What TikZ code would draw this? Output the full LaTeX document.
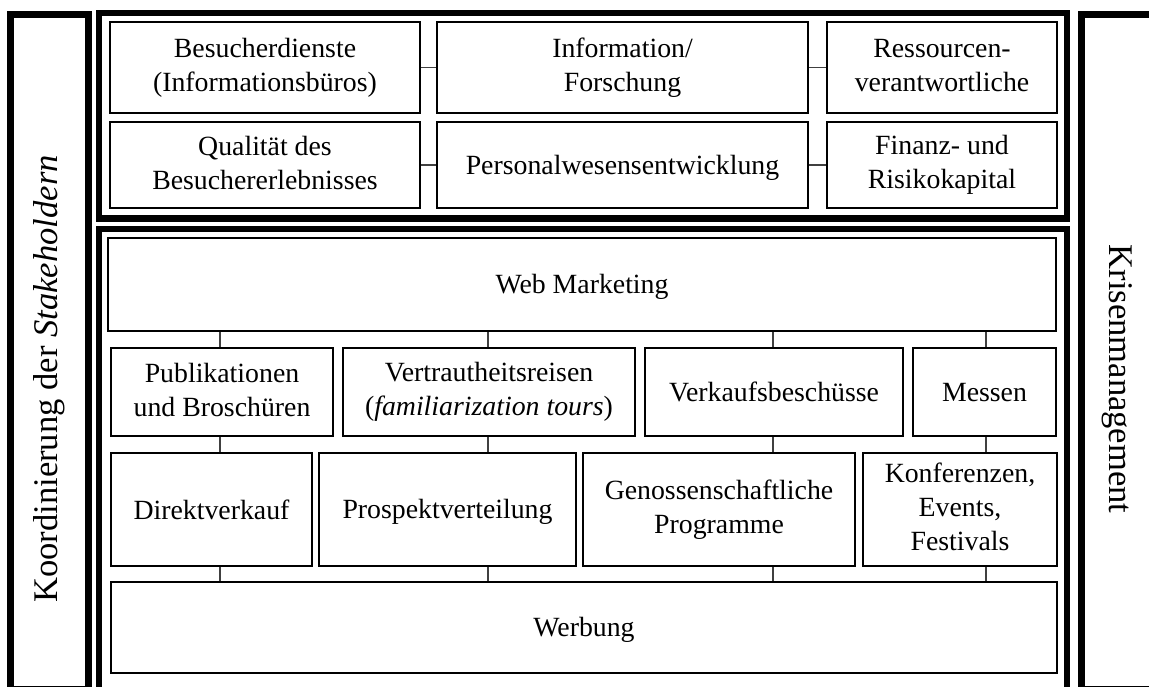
\documentclass[tikz,border=0pt]{standalone}
\usepackage{fontspec}
\setmainfont{Liberation Serif}
% asymmetric strut: keeps baselines a little below the box centre
\newcommand\boxstrut{\rule[-2.5pt]{0pt}{14.5pt}}
\begin{document}
\begin{tikzpicture}[x=0.5pt,y=-0.5pt,
  box/.style={draw=black,line width=1pt,fill=white,align=center,inner sep=0pt,
    font=\fontsize{13.9}{17}\selectfont,
    execute at begin node=\boxstrut,execute at end node=\boxstrut},
  frame/.style={draw=black,line width=3.3pt},
  link/.style={draw=black!75,line width=0.55pt},
  side/.style={font=\fontsize{17.3}{20}\selectfont,inner sep=0pt}]
\useasboundingbox (0,0) rectangle (1149,686);

% outer frames
\draw[frame] (10.5,14.5) rectangle (88.5,689);
\draw[frame] (1081.5,14.5) rectangle (1180,689);
\draw[frame] (99,13) rectangle (1067,218.5);
\draw[frame] (99,229) rectangle (1067,730);

% side labels
\node[side,rotate=90] (koord) at (49,379) {Koordinierung der \textit{Stakeholdern}};
\node[side,rotate=-90] (krise) at (1117,379) {Krisenmanagement};

% upper block
\node[box,minimum width=155pt,minimum height=45.5pt] (a1) at (265,67.5) {Besucherdienste\\(Informationsbüros)};
\node[box,minimum width=185.5pt,minimum height=45.5pt] (b1) at (622.5,67.5) {Information/\\Forschung};
\node[box,minimum width=115pt,minimum height=45.5pt] (c1) at (942,67.5) {Ressourcen-\\verantwortliche};
\node[box,minimum width=155pt,minimum height=43pt] (a2) at (265,165) {Qualität des\\Besuchererlebnisses};
\node[box,minimum width=185.5pt,minimum height=43pt] (b2) at (622.5,165) {Personalwesensentwicklung};
\node[box,minimum width=115pt,minimum height=43pt] (c2) at (942,165) {Finanz- und\\Risikokapital};

\draw[link] (a1.east) -- (b1.west);
\draw[link] (b1.east) -- (c1.west);
\draw[link] (a2.east) -- (b2.west);
\draw[link] (b2.east) -- (c2.west);

% lower block
\coordinate (x1) at (220,0);
\coordinate (x2) at (488,0);
\coordinate (x3) at (773,0);
\coordinate (x4) at (986,0);

\node[box,minimum width=474pt,minimum height=46.5pt] (web) at (582,284.5) {Web Marketing};

\node[box,minimum width=111pt,minimum height=44pt] (p) at (222,392) {Publikationen\\und Broschüren};
\node[box,minimum width=146pt,minimum height=44pt] (v) at (489,392) {Vertrautheitsreisen\\(\textit{familiarization tours})};
\node[box,minimum width=129pt,minimum height=44pt] (vb) at (774,392) {Verkaufsbeschüsse};
\node[box,minimum width=71.5pt,minimum height=44pt] (m) at (984.5,392) {Messen};

\node[box,minimum width=100.5pt,minimum height=56.5pt] (d) at (211.5,509.5) {Direktverkauf};
\node[box,minimum width=128.5pt,minimum height=56.5pt] (pv) at (447.5,509.5) {Prospektverteilung};
\node[box,minimum width=136pt,minimum height=56.5pt] (g) at (719,509.5) {Genossenschaftliche\\Programme};
\node[box,minimum width=97pt,minimum height=56.5pt] (k) at (960,509.5) {Konferenzen,\\Events,\\Festivals};

\node[box,minimum width=473pt,minimum height=45.5pt] (werb) at (584,627.5) {Werbung};

\draw[link] (web.south -| x1) -- (p.north -| x1);
\draw[link] (web.south -| x2) -- (v.north -| x2);
\draw[link] (web.south -| x3) -- (vb.north -| x3);
\draw[link] (web.south -| x4) -- (m.north -| x4);

\draw[link] (p.south -| x1) -- (d.north -| x1);
\draw[link] (v.south -| x2) -- (pv.north -| x2);
\draw[link] (vb.south -| x3) -- (g.north -| x3);
\draw[link] (m.south -| x4) -- (k.north -| x4);

\draw[link] (d.south -| x1) -- (werb.north -| x1);
\draw[link] (pv.south -| x2) -- (werb.north -| x2);
\draw[link] (g.south -| x3) -- (werb.north -| x3);
\draw[link] (k.south -| x4) -- (werb.north -| x4);
\end{tikzpicture}
\end{document}
